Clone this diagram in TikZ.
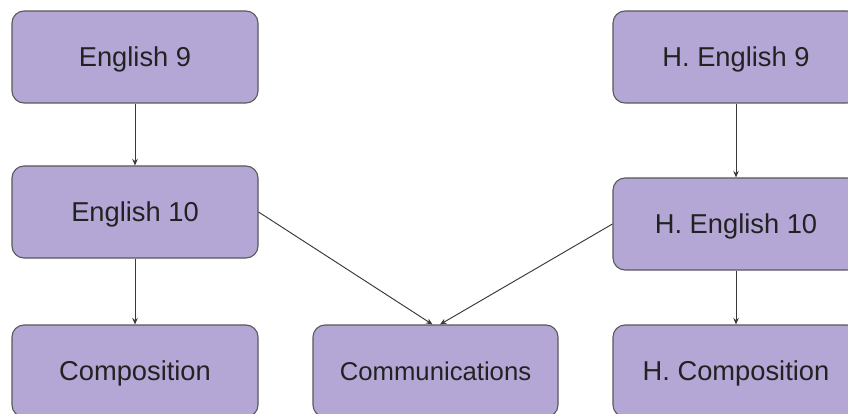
\documentclass[tikz,border=0pt]{standalone}
\usepackage{fontspec}
\setmainfont{Liberation Sans}
\usetikzlibrary{arrows.meta,calc}
\definecolor{boxfill}{HTML}{B4A7D6}
\definecolor{boxline}{HTML}{595959}
\definecolor{txt}{HTML}{222222}
\definecolor{arr}{HTML}{3A3A3A}
\begin{document}
\begin{tikzpicture}[x=1pt,y=1pt,
  course/.style={draw=boxline,fill=boxfill,line width=1.1pt,rounded corners=12pt,
    minimum width=246pt,minimum height=92pt,inner sep=0pt,text=txt,
    text height=19.5pt,text depth=0pt,
    font=\fontsize{27.3}{30}\selectfont},
  link/.style={draw=arr,line width=0.95pt,-{Stealth[length=6.5pt,width=5.5pt]}}]
\useasboundingbox (0,0) rectangle (848,-414);
\clip (0,0) rectangle (848,-414);
\fill[white] (0,0) rectangle (848,-414);
\node[course] (e9) at (135,-57) {English 9};
\node[course] (e10) at (135,-212) {English 10};
\node[course] (comp) at (135,-371) {Composition};
\node[course,minimum width=245pt,text height=18.4pt,font=\fontsize{25.7}{28}\selectfont] (comm) at (435.5,-371) {Communications};
\node[course] (he9) at (736,-57) {H. English 9};
\node[course] (he10) at (736,-224) {H. English 10};
\node[course] (hcomp) at (736,-371) {H. Composition};
\draw[link] (e9) -- (e10);
\draw[link] (e10) -- (comp);
\draw[link] (he9) -- (he10);
\draw[link] (he10) -- (hcomp);
\draw[link] (e10.east) -- ($(comm.north)+(-3,0)$);
\draw[link] (he10.west) -- ($(comm.north)+(4.5,0)$);
\end{tikzpicture}
\end{document}
